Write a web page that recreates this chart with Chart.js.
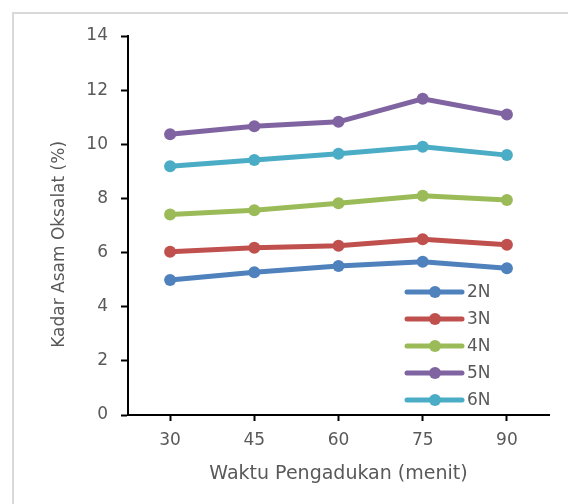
<!DOCTYPE html>
<html lang="en">
<head>
    <meta charset="UTF-8">
    <title>Kadar Asam Oksalat</title>
    <script src="https://cdn.jsdelivr.net/npm/chart.js"></script>
    <style>
        html, body {
            margin: 0;
            background: #fff;
            overflow: hidden;
        }
        .frame {
            position: absolute;
            left: 12px;
            top: 12px;
            width: 620px;
            height: 560px;
            border: 2px solid #d9d9d9;
            box-sizing: border-box;
        }
        .wrap {
            position: absolute;
            left: 0;
            top: 0;
            width: 568px;
            height: 504px;
        }
    </style>
</head>
<body>
    <div class="frame"></div>
    <div class="wrap"><canvas id="chart"></canvas></div>
    <script>
        // data
        const waktu = ['30', '45', '60', '75', '90'];
        const kadar2N = [4.99, 5.27, 5.50, 5.66, 5.42];
        const kadar3N = [6.03, 6.18, 6.25, 6.49, 6.29];
        const kadar4N = [7.41, 7.56, 7.82, 8.10, 7.94];
        const kadar5N = [10.37, 10.67, 10.83, 11.68, 11.10];
        const kadar6N = [9.19, 9.42, 9.65, 9.91, 9.60];
        const yTicks = [0, 2, 4, 6, 8, 10, 12, 14];

        const grey = '#595959';
        const fontFamily = '"DejaVu Sans", sans-serif';

        function makeSet(label, data, color) {
            return {
                label: label,
                data: data,
                borderColor: color,
                backgroundColor: color,
                borderWidth: 5,
                pointRadius: 6,
                pointHoverRadius: 6,
                pointBorderWidth: 0,
                tension: 0
            };
        }

        // legend drawn inside the plot, bottom right
        const innerLegend = {
            id: 'innerLegend',
            afterDatasetsDraw(chart) {
                const ctx = chart.ctx;
                const area = chart.chartArea;
                const x0 = area.right - 142;
                const step = 27;
                const y0 = area.bottom - 123;
                ctx.save();
                ctx.font = '17px ' + fontFamily;
                ctx.textBaseline = 'middle';
                chart.data.datasets.forEach((ds, i) => {
                    const y = y0 + i * step;
                    ctx.strokeStyle = ds.borderColor;
                    ctx.lineWidth = 5;
                    ctx.lineCap = 'round';
                    ctx.beginPath();
                    ctx.moveTo(x0, y);
                    ctx.lineTo(x0 + 55, y);
                    ctx.stroke();
                    ctx.fillStyle = ds.borderColor;
                    ctx.beginPath();
                    ctx.arc(x0 + 28, y, 6, 0, Math.PI * 2);
                    ctx.fill();
                    ctx.fillStyle = grey;
                    ctx.fillText(ds.label, x0 + 60, y + 1);
                });
                ctx.restore();
            }
        };

        new Chart(document.getElementById('chart'), {
            type: 'line',
            data: {
                labels: waktu,
                datasets: [
                    makeSet('2N', kadar2N, '#4f81bd'),
                    makeSet('3N', kadar3N, '#c0504d'),
                    makeSet('4N', kadar4N, '#9bbb59'),
                    makeSet('5N', kadar5N, '#8064a2'),
                    makeSet('6N', kadar6N, '#4bacc6')
                ]
            },
            options: {
                responsive: true,
                maintainAspectRatio: false,
                animation: false,
                layout: { padding: { top: 36, right: 19, left: 0, bottom: 0 } },
                plugins: {
                    legend: { display: false },
                    tooltip: { enabled: false }
                },
                scales: {
                    x: {
                        offset: true,
                        afterFit: (scale) => { scale.height = 89; },
                        grid: {
                            offset: false,
                            drawOnChartArea: false,
                            drawTicks: true,
                            tickLength: 6,
                            tickWidth: 2,
                            tickColor: '#000'
                        },
                        border: { color: '#000', width: 2 },
                        ticks: {
                            color: grey,
                            padding: 9,
                            font: { family: fontFamily, size: 17 }
                        },
                        title: {
                            display: true,
                            text: 'Waktu Pengadukan (menit)',
                            color: grey,
                            font: { family: fontFamily, size: 19 },
                            padding: { top: 0, bottom: 19 }
                        }
                    },
                    y: {
                        min: 0,
                        max: 14,
                        afterFit: (scale) => { scale.width = 128; },
                        afterBuildTicks: (scale) => {
                            scale.ticks = yTicks.map(v => ({ value: v }));
                        },
                        grid: {
                            drawOnChartArea: false,
                            drawTicks: true,
                            tickLength: 7,
                            tickWidth: 2,
                            tickColor: '#000'
                        },
                        border: { color: '#000', width: 2 },
                        ticks: {
                            color: grey,
                            padding: 13,
                            font: { family: fontFamily, size: 17 }
                        },
                        title: {
                            display: true,
                            // trailing spaces nudge the rotated title down as in the original
                            text: 'Kadar Asam Oksalat (%)' + '\u00a0'.repeat(7),
                            color: grey,
                            font: { family: fontFamily, size: 17 },
                            padding: { top: 49, bottom: 0 }
                        }
                    }
                }
            },
            plugins: [innerLegend]
        });
    </script>
</body>
</html>
